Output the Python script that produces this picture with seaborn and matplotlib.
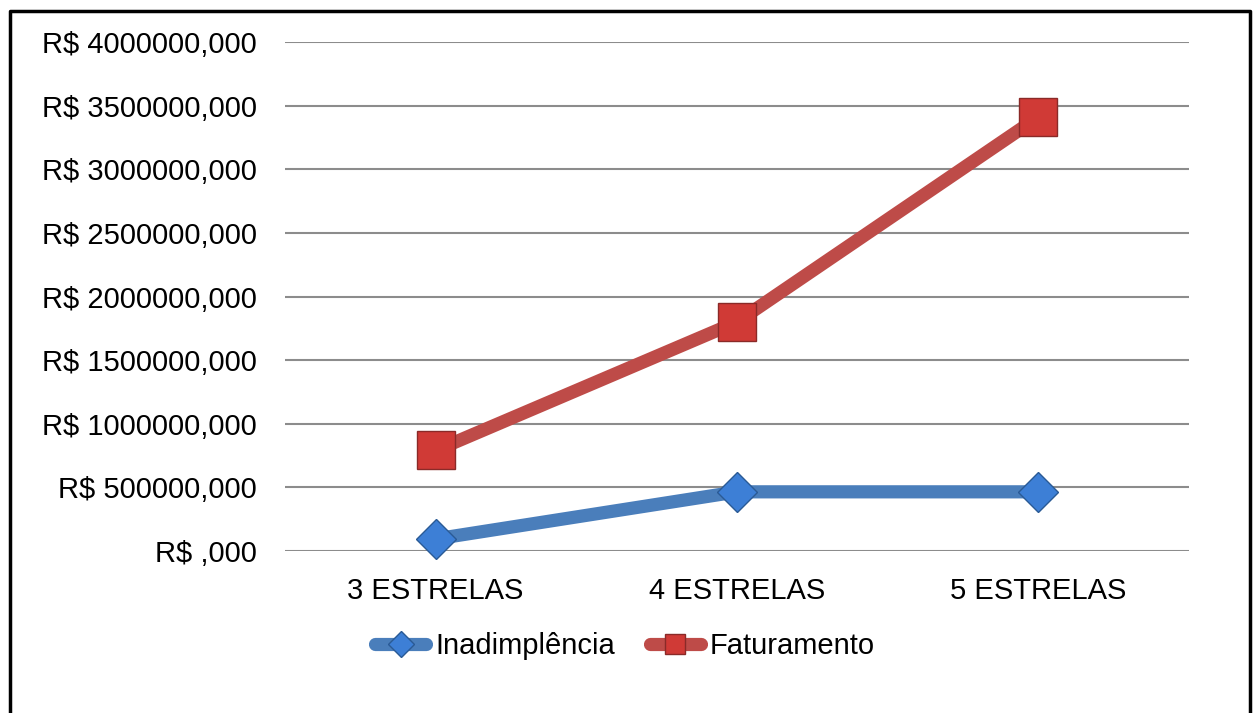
import pandas as pd
import matplotlib
matplotlib.use('Agg')
import matplotlib.pyplot as plt
from matplotlib.ticker import FuncFormatter
from matplotlib.lines import Line2D
import seaborn as sb

    # data

categorias = ['3 ESTRELAS', '4 ESTRELAS', '5 ESTRELAS']
inadimplencia = [95000, 465000, 465000]
faturamento = [790000, 1800000, 3410000]
series = ['Inadimplência', 'Faturamento']

df = pd.DataFrame({
    'categoria': categorias * 2,
    'valor': inadimplencia + faturamento,
    'serie': [series[0]] * 3 + [series[1]] * 3,
})

sb.set_style('white')
plt.rcParams['font.family'] = ['Liberation Sans', 'DejaVu Sans']

fig = plt.figure(figsize=(12.53, 7.13), dpi=100)
ax = fig.add_axes([285/1253, 1-551/713, (1189-285)/1253, (551-42)/713])

cores = {'Inadimplência': '#4a7ebb', 'Faturamento': '#be4b48'}
sb.lineplot(data=df, x='categoria', y='valor', hue='serie', style='serie',
            palette=cores, markers={'Inadimplência': 'D', 'Faturamento': 's'},
            dashes=False, sort=False, linewidth=9.5, markersize=24,
            ax=ax, legend=False)

# marker faces a bit brighter than the lines
faces = {'Inadimplência': ('#3d7fd6', '#2a5a95'), 'Faturamento': ('#d03a36', '#8a2a28')}
msize = {'Inadimplência': 20, 'Faturamento': 27}
for ln, s in zip(ax.get_lines(), series):
    ln.set_markerfacecolor(faces[s][0])
    ln.set_markeredgecolor(faces[s][1])
    ln.set_markeredgewidth(1.0)
    ln.set_markersize(msize[s])
    ln.set_solid_capstyle('round')
    ln.set_clip_on(False)

ax.set_xlim(-0.5, 2.5)
ax.set_ylim(0, 4000000)
ax.set_yticks(range(0, 4000001, 500000))
ax.yaxis.set_major_formatter(FuncFormatter(lambda v, p: 'R$ %s,000' % (str(int(v)) if v > 0 else '')))
ax.grid(axis='y', color='#8c8c8c', linewidth=1.5)
ax.set_axisbelow(True)
for sp in ax.spines.values():
    sp.set_visible(False)
ax.tick_params(axis='both', length=0, labelsize=21, colors='black')
ax.tick_params(axis='y', pad=20)
ax.tick_params(axis='x', pad=19)
ax.set_xlabel('')
ax.set_ylabel('')

# legend
handles = []
for s in series:
    handles.append(Line2D([], [], color=cores[s], linewidth=9.5, solid_capstyle='round',
                          marker='D' if s == series[0] else 's',
                          markersize=13 if s == series[0] else 14,
                          markerfacecolor=faces[s][0], markeredgecolor=faces[s][1]))
fig.legend(handles, series, loc='center', bbox_to_anchor=(625/1253, 1-646/713), ncol=2,
           frameon=False, fontsize=21, labelcolor='black', handlelength=1.75,
           handletextpad=0.3, columnspacing=1.2)

# frame around the picture (no bottom edge)
fig.add_artist(Line2D([10/1253, 10/1253, 1250/1253, 1250/1253], [0, 1-11/713, 1-11/713, 0],
                      transform=fig.transFigure, color='black', linewidth=2.5))

fig.savefig('out.png', dpi=100, facecolor='white')
